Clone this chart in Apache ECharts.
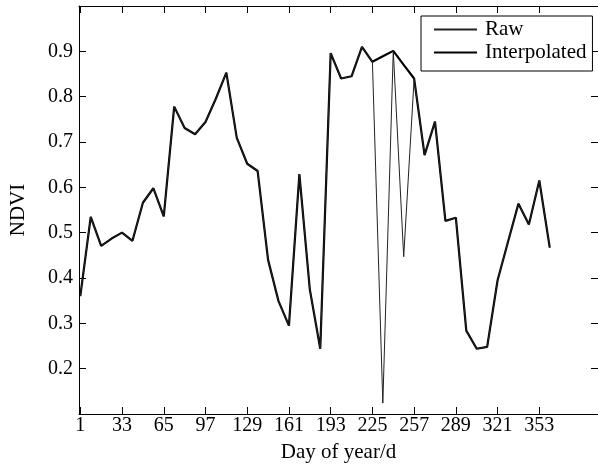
<!DOCTYPE html>
<html>
<head>
<meta charset="utf-8">
<script src="https://cdn.jsdelivr.net/npm/echarts@6/dist/echarts.min.js"></script>
<style>
html,body{margin:0;padding:0;background:#fff;}
#c{width:598px;height:468px;}
</style>
</head>
<body>
<div id="c"></div>
<script>
var days = [1,9,17,25,33,41,49,57,65,73,81,89,97,105,113,121,129,137,145,153,161,169,177,185,193,201,209,217,225,233,241,249,257,265,273,281,289,297,305,313,321,329,337,345,353,361];
var rawNDVI = [0.360,0.535,0.471,0.487,0.500,0.482,0.566,0.598,0.536,0.778,0.731,0.717,0.744,0.796,0.853,0.709,0.652,0.636,0.440,0.349,0.295,0.629,0.375,0.244,0.896,0.840,0.845,0.910,0.877,0.124,0.901,0.447,0.840,0.671,0.745,0.526,0.533,0.284,0.244,0.248,0.395,0.480,0.564,0.518,0.615,0.467];
var interpNDVI = [0.360,0.535,0.471,0.487,0.500,0.482,0.566,0.598,0.536,0.778,0.731,0.717,0.744,0.796,0.853,0.709,0.652,0.636,0.440,0.349,0.295,0.629,0.375,0.244,0.896,0.840,0.845,0.910,0.877,0.889,0.901,0.870,0.840,0.671,0.745,0.526,0.533,0.284,0.244,0.248,0.395,0.480,0.564,0.518,0.615,0.467];
var xTicks = [1,33,65,97,129,161,193,225,257,289,321,353];
var yTicks = [0.2,0.3,0.4,0.5,0.6,0.7,0.8,0.9];
var seriesNames = ['Raw','Interpolated'];

function pairs(vals){ return days.map(function(d,i){ return [d, vals[i]]; }); }
var FONT = "'Liberation Serif','Times New Roman',serif";

var chart = echarts.init(document.getElementById('c'), null, {renderer:'canvas'});
var axisLine = {show:true, onZero:false, lineStyle:{color:'#000', width:1}};
chart.setOption({
  animation:false,
  backgroundColor:'#fff',
  grid:{left:76, right:0, top:6, bottom:48, containLabel:false},
  legend:{
    data:seriesNames,
    orient:'vertical',
    left:421, top:16,
    padding:[3,6,8,12],
    itemGap:2,
    itemWidth:43, itemHeight:14,
    borderColor:'#000', borderWidth:1,
    borderRadius:0,
    backgroundColor:'#fff',
    textStyle:{fontFamily:FONT, fontSize:21, color:'#000', padding:[0,0,0,3]}
  },
  xAxis:[{
    type:'value', min:0, max:398, position:'bottom',
    name:'Day of year/d', nameLocation:'middle', nameGap:28,
    nameTextStyle:{fontFamily:FONT, fontSize:21, color:'#000'},
    axisLine:axisLine,
    axisTick:{show:true, inside:true, length:7, customValues:xTicks, lineStyle:{color:'#000'}},
    axisLabel:{show:true, margin:2, customValues:xTicks, fontFamily:FONT, fontSize:20, color:'#000'},
    splitLine:{show:false}
  },{
    type:'value', min:0, max:398, position:'top',
    axisLine:axisLine,
    axisTick:{show:true, inside:true, length:7, customValues:xTicks, lineStyle:{color:'#000'}},
    axisLabel:{show:false},
    splitLine:{show:false}
  }],
  yAxis:[{
    type:'value', min:0.1, max:1.0, position:'left',
    name:'NDVI', nameLocation:'middle', nameGap:50,
    nameTextStyle:{fontFamily:FONT, fontSize:21, color:'#000'},
    axisLine:axisLine,
    axisTick:{show:true, inside:true, length:7, customValues:yTicks, lineStyle:{color:'#000'}},
    axisLabel:{show:true, margin:6, customValues:yTicks, fontFamily:FONT, fontSize:20, color:'#000',
      formatter:function(v){return v.toFixed(1);}},
    splitLine:{show:false}
  },{
    type:'value', min:0.1, max:1.0, position:'right',
    axisLine:axisLine,
    axisTick:{show:true, inside:true, length:7, customValues:yTicks, lineStyle:{color:'#000'}},
    axisLabel:{show:false},
    splitLine:{show:false}
  }],
  series:[{
    name:seriesNames[0], type:'line', data:pairs(rawNDVI),
    xAxisIndex:0, yAxisIndex:0,
    symbol:'line', showSymbol:false,
    lineStyle:{color:'#222', width:1}, itemStyle:{color:'#222', borderWidth:0}, z:3
  },{
    name:seriesNames[1], type:'line', data:pairs(interpNDVI),
    xAxisIndex:0, yAxisIndex:0,
    symbol:'line', showSymbol:false,
    lineStyle:{color:'#000', width:2.2}, itemStyle:{color:'#000', borderWidth:0}, z:2
  }]
});
</script>
</body>
</html>
